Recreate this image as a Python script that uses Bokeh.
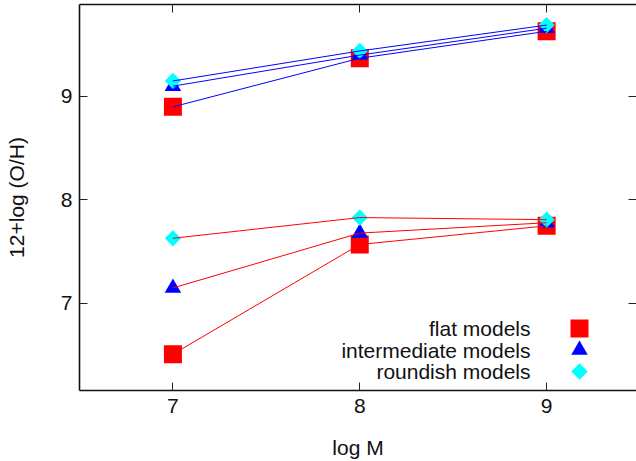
import math
from bokeh.plotting import figure
from bokeh.models import (Range1d, LinearAxis, FixedTicker, Label, CustomJSTickFormatter)
from bokeh.embed import file_html
from bokeh.resources import INLINE

# ---- data ----
LOG_M = [7, 8, 9]
flat_upper = [8.90, 9.37, 9.63]
inter_upper = [9.10, 9.40, 9.66]
round_upper = [9.15, 9.44, 9.69]
flat_lower = [6.51, 7.57, 7.75]
inter_lower = [7.15, 7.68, 7.78]
round_lower = [7.63, 7.83, 7.81]
X_TICKS = [7, 8, 9]
Y_TICKS = [7, 8, 9]
SERIES_NAMES = ["flat models", "intermediate models", "roundish models"]

# ---- layout / style ----
FONT = "Liberation Sans"
FS = "21px"
W, H = 636, 461
BL, BR, BT, BB = 79, 0, 4, 71
FRAME_W, FRAME_H = W - BL - BR, H - BT - BB
KEY_SYMBOL_X = 500          # px from frame left
KEY_TEXT_X = 451            # px from frame left (right edge of text)
KEY_ROWS = [62, 40.5, 19]   # px from frame bottom

p = figure(width=W, height=H,
           x_range=Range1d(6.5, 9.481), y_range=Range1d(6.159, 9.889),
           output_backend="svg", toolbar_location=None,
           min_border_left=BL, min_border_right=BR, min_border_top=BT, min_border_bottom=BB,
           x_axis_label="log M", y_axis_label="12+log (O/H)")
p.outline_line_color = None
p.grid.visible = False
p.background_fill_color = "white"
p.border_fill_color = "white"
p.extra_x_ranges = {"key": Range1d(0, FRAME_W)}
p.extra_y_ranges = {"key": Range1d(0, FRAME_H)}


def style_axis(ax, ticks, show_line=True):
    ax.ticker = FixedTicker(ticks=ticks)
    ax.major_tick_in = 8
    ax.major_tick_out = 0
    ax.minor_tick_in = 0
    ax.minor_tick_out = 0
    ax.major_tick_line_color = "#222222"
    ax.major_tick_line_width = 1
    ax.axis_line_color = "#111111" if show_line else None
    ax.axis_line_width = 1.6
    ax.major_label_text_font = FONT
    ax.major_label_text_font_size = FS
    ax.major_label_text_color = "#111111"
    ax.axis_label_text_font = FONT
    ax.axis_label_text_font_size = FS
    ax.axis_label_text_font_style = "normal"
    ax.axis_label_text_color = "#111111"


style_axis(p.xaxis[0], X_TICKS)
style_axis(p.yaxis[0], Y_TICKS)
p.xaxis[0].major_label_standoff = 8
p.xaxis[0].axis_label_standoff = 20
p.yaxis[0].major_label_standoff = 7
p.yaxis[0].axis_label_standoff = 30

blank = CustomJSTickFormatter(code="return ''")
top = LinearAxis()
style_axis(top, X_TICKS)
top.formatter = blank
top.major_label_text_font_size = "0px"
top.major_label_standoff = 0
p.add_layout(top, "above")

right = LinearAxis()
style_axis(right, Y_TICKS, show_line=False)
right.formatter = blank
right.major_label_text_font_size = "0px"
right.major_label_standoff = 0
p.add_layout(right, "right")

# ---- markers ----
SQ = dict(marker="square", size=18, fill_color="#ff0000", line_color="#ff0000", line_width=0)
TR = dict(marker="triangle", size=16.5, fill_color="#0000ff", line_color="#0000ff", line_width=0)
DM = dict(marker="square", angle=math.pi / 4, size=11.5, fill_color="#00ffff",
          line_color="#00ffff", line_width=0)

xs = LOG_M + LOG_M
p.scatter(xs, flat_upper + flat_lower, **SQ)
p.scatter(xs, inter_upper + inter_lower, **TR)
p.scatter(xs, round_upper + round_lower, **DM)

# ---- lines (drawn over markers) ----
for ys in (flat_upper, inter_upper, round_upper):
    p.line(LOG_M, ys, line_color="#0000ff", line_width=1)
for ys in (flat_lower, inter_lower, round_lower):
    p.line(LOG_M, ys, line_color="#ff0000", line_width=1)

# ---- key: text to the left of the symbol ----
for name, style, ry in zip(SERIES_NAMES, (SQ, TR, DM), KEY_ROWS):
    p.scatter([KEY_SYMBOL_X], [ry], x_range_name="key", y_range_name="key", **style)
    p.add_layout(Label(x=KEY_TEXT_X, y=ry, x_units="screen", y_units="screen", text=name,
                       text_align="right", text_baseline="middle",
                       text_font=FONT, text_font_size=FS, text_color="#111111"))

open("out.html", "w").write(file_html(p, INLINE))
